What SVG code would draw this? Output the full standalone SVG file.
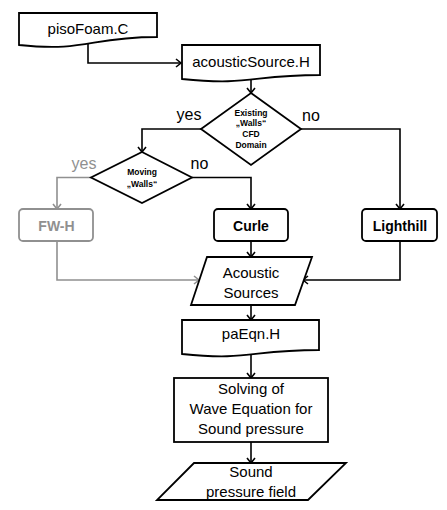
<svg xmlns="http://www.w3.org/2000/svg" width="447" height="510" viewBox="0 0 447 510">
<defs>
<marker id="ab" markerUnits="userSpaceOnUse" markerWidth="10" markerHeight="10" refX="6" refY="5" orient="auto">
<path d="M1,1 L6,5 L1,9" fill="none" stroke="#000" stroke-width="1.6"/>
</marker>
<marker id="ag" markerUnits="userSpaceOnUse" markerWidth="10" markerHeight="10" refX="6" refY="5" orient="auto">
<path d="M1,1 L6,5 L1,9" fill="none" stroke="#909090" stroke-width="1.6"/>
</marker>
</defs>
<style>
.n{fill:#fff;stroke:#000;stroke-width:1.8}
.g{fill:#fff;stroke:#909090;stroke-width:1.8}
.t{font-family:"Liberation Sans",Arial,sans-serif;font-size:15px;text-anchor:middle;fill:#000}
.b{font-family:"Liberation Sans",Arial,sans-serif;font-size:14px;font-weight:bold;text-anchor:middle;fill:#000}
.s{font-family:"Liberation Sans",Arial,sans-serif;font-size:8.5px;font-weight:bold;text-anchor:middle;fill:#000}
.l{font-family:"Liberation Sans",Arial,sans-serif;font-size:16px;text-anchor:middle;fill:#000}
.c{fill:none;stroke:#000;stroke-width:1.6}
.cg{fill:none;stroke:#909090;stroke-width:1.6}
</style>
<rect width="447" height="510" fill="#fff"/>
<g id="connectors">
<path class="c" d="M88,44 V63 H181" marker-end="url(#ab)"/>
<path class="c" d="M251,79 V93" marker-end="url(#ab)"/>
<path class="c" d="M201,129 H142 V152" marker-end="url(#ab)"/>
<path class="c" d="M301,129 H400 V209" marker-end="url(#ab)"/>
<path class="cg" d="M91,177.5 H57 V209" marker-end="url(#ag)"/>
<path class="c" d="M192,177.5 H251 V209" marker-end="url(#ab)"/>
<path class="c" d="M251,241 V257" marker-end="url(#ab)"/>
<path class="cg" d="M57,241 V280 H199" marker-end="url(#ag)"/>
<path class="c" d="M400,241 V280 H303" marker-end="url(#ab)"/>
<path class="c" d="M251,305 V320" marker-end="url(#ab)"/>
<path class="c" d="M251,354 V378" marker-end="url(#ab)"/>
<path class="c" d="M251,442 V463" marker-end="url(#ab)"/>
</g>
<g id="labels">
<text class="l" x="189" y="120">yes</text>
<text class="l" x="311" y="120.5">no</text>
<text class="l" x="84" y="168.5" fill="#909090" style="fill:#909090">yes</text>
<text class="l" x="199.5" y="169">no</text>
</g>
<g id="pisoFoam">
<path class="n" d="M19,13 H157 V37 C88,37 88,52 19,45 Z"/>
<text class="t" x="88" y="33.5">pisoFoam.C</text>
</g>
<g id="acousticSource">
<path class="n" d="M182,45 H320 V75 C251,75 251,86 182,79 Z"/>
<text class="t" x="251" y="67">acousticSource.H</text>
</g>
<g id="existingWalls">
<path class="n" d="M251,93 L301,129 L251,165 L201,129 Z"/>
<text class="s" x="251" y="115.5">Existing</text>
<text class="s" x="251" y="126">„Walls“</text>
<text class="s" x="251" y="136.5">CFD</text>
<text class="s" x="251" y="147.5">Domain</text>
</g>
<g id="movingWalls">
<path class="n" d="M142,152 L192,177.5 L142,203 L91,177.5 Z"/>
<text class="s" x="142" y="174.5">Moving</text>
<text class="s" x="142" y="186.5">„Walls“</text>
</g>
<g id="fwh">
<rect class="g" x="19" y="209" width="74" height="32" rx="4"/>
<text class="b" x="56.5" y="230.5" style="fill:#909090">FW-H</text>
</g>
<g id="curle">
<rect class="n" x="214" y="209" width="74" height="32" rx="4"/>
<text class="b" x="251" y="230.5">Curle</text>
</g>
<g id="lighthill">
<rect class="n" x="362" y="209" width="75" height="32" rx="4"/>
<text class="b" x="400" y="230.5">Lighthill</text>
</g>
<g id="acousticSources">
<path class="n" d="M207,257 H312 L295,305 H191 Z"/>
<text class="t" x="251" y="278">Acoustic</text>
<text class="t" x="251" y="297.5">Sources</text>
</g>
<g id="paEqn">
<path class="n" d="M182,320 H319 V350 C250,350 250,361 182,354 Z"/>
<text class="t" x="251" y="338.5">paEqn.H</text>
</g>
<g id="solving">
<rect class="n" x="174" y="378" width="154" height="64"/>
<text class="t" x="251" y="393.5">Solving of</text>
<text class="t" x="251" y="413.5">Wave Equation for</text>
<text class="t" x="251" y="433.5">Sound pressure</text>
</g>
<g id="soundPressure">
<path class="n" d="M194,463 H346 L308,500 H157 Z"/>
<text class="t" x="251" y="477">Sound</text>
<text class="t" x="251" y="496.5">pressure field</text>
</g>
</svg>
